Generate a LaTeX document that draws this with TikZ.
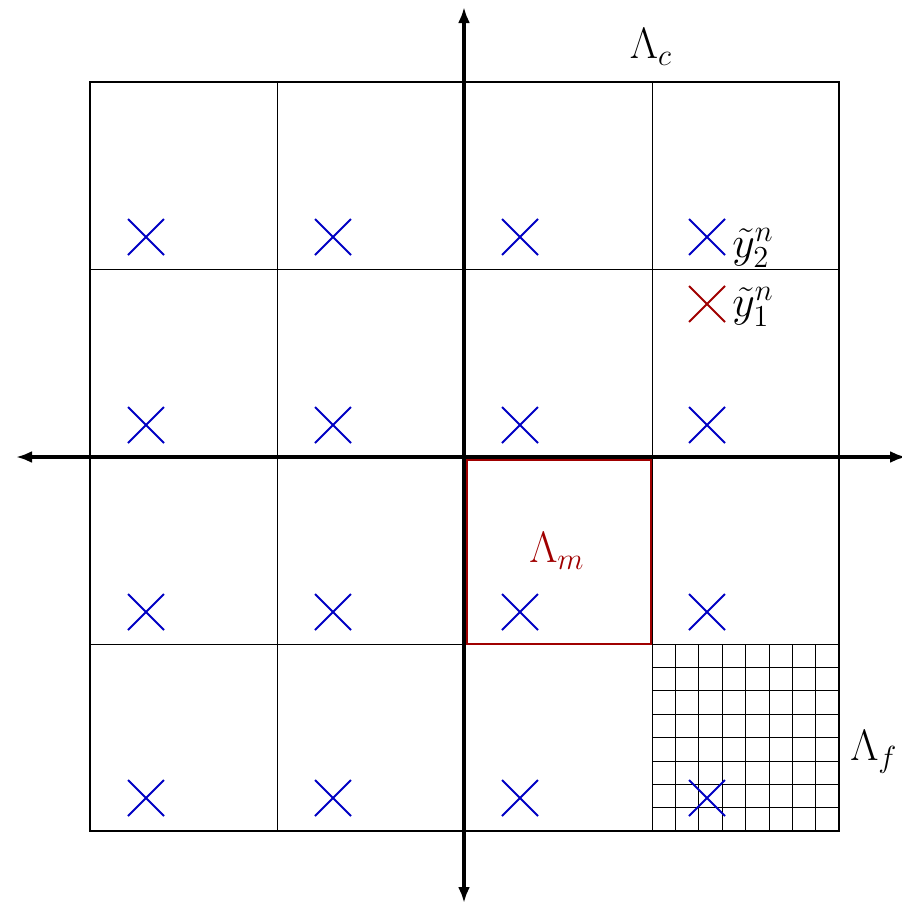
\documentclass[tikz,border=0pt]{standalone}
\usepackage{graphicx}
\usetikzlibrary{arrows.meta}
\definecolor{xblue}{RGB}{0,0,195}
\definecolor{xred}{RGB}{160,0,0}
\newcommand{\biglbl}[1]{\scalebox{1.27}{\fontsize{17.28}{21}\selectfont #1}}
\begin{document}
\begin{tikzpicture}[x=0.5pt,y=-0.5pt,
  lbl/.style={inner sep=0pt},
  xmark/.style={line width=1pt},
  gridline/.style={line width=0.5pt},
  fineline/.style={line width=0.4pt},
  axis/.style={line width=2pt,{Latex[length=8pt,width=6pt]}-{Latex[length=8pt,width=6pt]}}]
\useasboundingbox (0,0) rectangle (901,905);
% fine grid
\foreach \i in {1,...,7}{
  \draw[fineline] ({652+\i*187.25/8},644) -- ({652+\i*187.25/8},831);
  \draw[fineline] (652,{644+\i*187.25/8}) -- (839,{644+\i*187.25/8});
}
% coarse grid
\foreach \v in {277,464,652}{
  \draw[gridline] (\v,82) -- (\v,831);
}
\foreach \v in {269,457,644}{
  \draw[gridline] (90,\v) -- (839,\v);
}
\draw[line width=1pt] (90,82) rectangle (839,831);
% crosses
\foreach \cx in {146,333,520,707}{
  \foreach \cy in {237,425,612,798}{
    \draw[xmark,xblue] (\cx-18,\cy-18) -- (\cx+18,\cy+18) (\cx-18,\cy+18) -- (\cx+18,\cy-18);
  }
}
\draw[xmark,xred] (707-18,304-18) -- (707+18,304+18) (707-18,304+18) -- (707+18,304-18);
% axes
\coordinate (xl) at (16,457);
\coordinate (xr) at (906,457);
\coordinate (yt) at (464,7);
\coordinate (yb) at (464,903);
\draw[axis] (xl) -- (xr);
\draw[axis] (yt) -- (yb);
% red cell
\draw[xred,line width=1pt] (466.5,459.5) rectangle (651,643.5);
% labels
\node[lbl] (lc) at (651,47) {\biglbl{$\Lambda_c$}};
\node[lbl,text=xred] (lm) at (557,551) {\biglbl{$\Lambda_m$}};
\node[lbl] (lf) at (874,752) {\biglbl{$\Lambda_f$}};
\node[lbl,anchor=west] (y2) at (732,248) {\biglbl{$\tilde{y}_2^n$}};
\node[lbl,anchor=west] (y1) at (732,307) {\biglbl{$\tilde{y}_1^n$}};
\end{tikzpicture}
\end{document}
